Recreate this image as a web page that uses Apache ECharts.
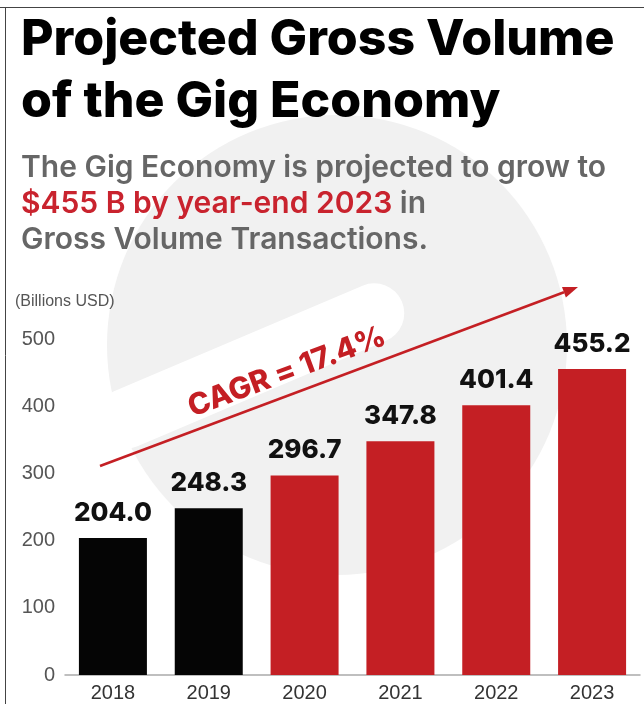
<!DOCTYPE html>
<html><head><meta charset="utf-8">
<script src="https://cdn.jsdelivr.net/npm/echarts@6/dist/echarts.min.js"></script>
<style>html,body{margin:0;padding:0;background:#fff}#c{width:644px;height:704px}</style>
</head><body><div id="c"></div>
<script>
const years = ['2018', '2019', '2020', '2021', '2022', '2023'];
const volume = [204.0, 248.3, 296.7, 347.8, 401.4, 455.2];
const isProjected = [false, false, true, true, true, true];
const yTicks = [0, 100, 200, 300, 400, 500];
const titleLines = ['Projected Gross Volume', 'of the Gig Economy'];
const subLine1 = 'The Gig Economy is projected to grow to';
const subLine2Red = '$455 B by year-end 2023';
const subLine2Rest = ' in';
const subLine3 = 'Gross Volume Transactions.';
const cagrText = 'CAGR = 17.4%';
const yUnit = '(Billions USD)';

const RED = '#c41f24', BLACK = '#050505', GREY = '#666';
const HEAVY = 'Inter, Lato, "Open Sans", sans-serif';
const chart = echarts.init(document.getElementById('c'), null, {renderer: 'canvas'});

const ang = 20.5 * Math.PI / 180;
const tip = [578, 287], start = [100, 466];
const d = [Math.cos(ang), -Math.sin(ang)], n = [Math.sin(ang), Math.cos(ang)];
const back = [tip[0] - 15 * d[0], tip[1] - 15 * d[1]];
const head = [tip, [back[0] + 5.5 * n[0], back[1] + 5.5 * n[1]], [back[0] - 5.5 * n[0], back[1] - 5.5 * n[1]]];

const option = {
  animation: false,
  backgroundColor: '#fff',
  grid: {left: 65, right: 4, top: 339, bottom: 29},
  xAxis: {
    type: 'category', data: years,
    axisLine: {lineStyle: {color: '#aaa', width: 1.5}},
    axisTick: {show: false},
    axisLabel: {color: '#333', fontSize: 20, fontFamily: '"Liberation Sans", Arial, sans-serif', margin: 8}
  },
  yAxis: {
    type: 'value', min: yTicks[0], max: yTicks[yTicks.length - 1], interval: 100,
    axisLine: {show: false}, axisTick: {show: false}, splitLine: {show: false},
    axisLabel: {color: '#555', fontSize: 20, fontFamily: '"Liberation Sans", Arial, sans-serif', margin: 10}
  },
  series: [{
    type: 'bar', data: volume, barWidth: 68, z: 5,
    itemStyle: {color: p => isProjected[p.dataIndex] ? RED : BLACK},
    label: {
      show: true, position: 'top', distance: 12,
      formatter: p => p.value.toFixed(1),
      color: '#111', fontSize: 26, fontWeight: 800, fontFamily: HEAVY
    }
  }],
  graphic: [
    {type: 'circle', z: -10, silent: true, shape: {cx: 337, cy: 345, r: 230}, style: {fill: '#f1f1f1'}},
    {type: 'rect', z: -9, silent: true, x: 250, y: 366, rotation: 23 * Math.PI / 180,
      shape: {x: -165, y: -30, width: 330, height: 60, r: 30}, style: {fill: '#fff'}},
    {type: 'line', z: 1, shape: {x1: 0, y1: 7.5, x2: 644, y2: 7.5}, style: {stroke: '#444', lineWidth: 1}},
    {type: 'line', z: 1, shape: {x1: 5.5, y1: 7, x2: 5.5, y2: 704}, style: {stroke: '#444', lineWidth: 1}},
    {type: 'text', z: 10, x: 21, y: 40, style: {text: titleLines[0], font: '800 50px ' + HEAVY, fill: '#000', verticalAlign: 'middle'}},
    {type: 'text', z: 10, x: 21, y: 102, style: {text: titleLines[1], font: '800 50px ' + HEAVY, fill: '#000', verticalAlign: 'middle'}},
    {type: 'text', z: 10, x: 21, y: 168, style: {text: subLine1, font: '600 30px ' + HEAVY, fill: GREY, verticalAlign: 'middle'}},
    {type: 'text', z: 10, x: 21, y: 204, style: {
      text: '{r|' + subLine2Red + '}{g|' + subLine2Rest + '}', verticalAlign: 'middle',
      rich: {r: {font: '600 30px ' + HEAVY, fill: '#c9232e'}, g: {font: '600 30px ' + HEAVY, fill: GREY}}}},
    {type: 'text', z: 10, x: 21, y: 240, style: {text: subLine3, font: '600 30px ' + HEAVY, fill: GREY, verticalAlign: 'middle'}},
    {type: 'text', z: 10, x: 15, y: 302, style: {text: yUnit, font: '16px "Liberation Sans", Arial, sans-serif', fill: '#555', verticalAlign: 'middle'}},
    {type: 'text', z: 10, x: 287, y: 372, rotation: ang, style: {text: cagrText, font: '800 30px ' + HEAVY, fill: RED, align: 'center', verticalAlign: 'middle'}},
    {type: 'polyline', z: 10, shape: {points: [start, back]}, style: {stroke: RED, lineWidth: 2.5}},
    {type: 'polygon', z: 10, shape: {points: head}, style: {fill: RED}}
  ]
};
chart.setOption(option);
</script></body></html>
